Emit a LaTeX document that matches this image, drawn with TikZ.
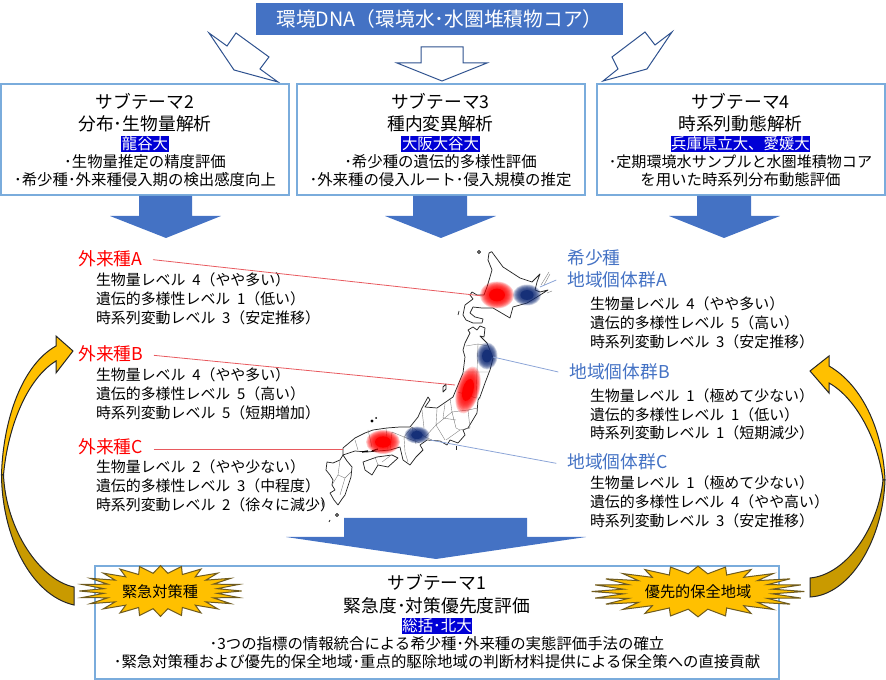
\documentclass[tikz,border=0pt]{standalone}
\usepackage{fontspec}
\setmainfont{Noto Sans CJK JP}
\usetikzlibrary{shapes.geometric}

\definecolor{barblue}{RGB}{68,114,196}
\definecolor{edgeblue}{RGB}{47,82,143}
\definecolor{boxblue}{RGB}{122,172,220}
\definecolor{uniblue}{RGB}{0,0,214}
\definecolor{gold}{RGB}{255,192,0}
\definecolor{darkgold}{RGB}{201,154,0}
\definecolor{burstedge}{RGB}{110,90,30}
\definecolor{navyspot}{RGB}{22,48,120}
\definecolor{redleader}{RGB}{232,90,95}
\definecolor{blueleader}{RGB}{140,165,215}

%soft spot: colour, centre x, centre y, x radius, y radius, angle
\newcommand{\softspot}[6]{
  \foreach \s in {1.00,0.95,0.90,0.85,0.80,0.75,0.70,0.65,0.60,0.55,0.50}
    \fill [#1,fill opacity=0.18,rotate around={#6:(#2,#3)}] (#2,#3) ellipse [x radius=#4*\s,y radius=#5*\s];
  \fill [#1,rotate around={#6:(#2,#3)}] (#2,#3) ellipse [x radius=#4*0.47,y radius=#5*0.47];
}

\tikzset{every picture/.style={line width=0.75pt},
  themebox/.style={draw=boxblue,line width=1.5pt,fill=white,inner sep=0pt,minimum width=216pt,minimum height=83pt},
  themehead/.style={font=\fontsize{13.3}{15}\selectfont,inner sep=0pt},
  themeline/.style={font=\fontsize{11.55}{14}\selectfont,inner sep=0pt},
  uniname/.style={font=\fontsize{11.55}{14}\selectfont,fill=uniblue,text=white,inner sep=0.4pt},
  bodyline/.style={font=\fontsize{11.2}{13}\selectfont,anchor=west,inner sep=0pt},
  alienlabel/.style={font=\fontsize{13.3}{15}\selectfont,text=red,anchor=west,inner sep=0pt},
  rarelabel/.style={font=\fontsize{13.3}{15}\selectfont,text=barblue,anchor=west,inner sep=0pt},
  hollowarrow/.style={draw=edgeblue,fill=white,line join=miter},
  blockarrow/.style={fill=barblue},
  goldarrow/.style={draw=black!85,fill=gold,line join=miter},
  darkarrow/.style={draw=black!85,fill=darkgold,line join=miter},
  burst/.style={star,star points=24,star point ratio=1.42,minimum size=38pt,inner sep=0pt,draw=burstedge,fill=gold},
  bursttext/.style={font=\fontsize{11.4}{13}\selectfont,inner sep=0pt},
  coast/.style={draw=black!85,line width=0.55pt,line join=round},
  border/.style={draw=black!50,line width=0.3pt,line join=round},
  redline/.style={draw=redleader,line width=0.6pt},
  blueline/.style={draw=blueleader,line width=0.6pt}}

\begin{document}
\begin{tikzpicture}[x=0.75pt,y=0.75pt,yscale=-1,xscale=1]
\useasboundingbox (0,0) rectangle (886,680);

%Top bar
\node (dna) [fill=barblue,text=white,minimum width=275pt,minimum height=24pt,inner sep=0pt,font=\fontsize{14.8}{16}\selectfont] at (439.5,19) {環境DNA（環境水･水圏堆積物コア）};

%Hollow arrows
\draw [hollowarrow] (278,82) -- (234,70) -- (209,33) -- (227,46) -- (236,33) -- (269,57) -- (260,69) -- cycle;
\draw [hollowarrow] (421,47) -- (463,47) -- (463,63) -- (487,63) -- (442,81) -- (397,63) -- (421,63) -- cycle;
\draw [hollowarrow] (603,81) -- (647,69) -- (672,32) -- (655,45) -- (645,32) -- (612,57) -- (618,69) -- cycle;

%Theme boxes
\node (box2) [themebox] at (145,139.5) {};
\node (box3) [themebox] at (440.5,139.5) {};
\node (box4) [themebox] at (740.5,139.5) {};

% Text Node
\node (head2) [themehead] at (145,101) {サブテーマ2};
\node (name2) [themehead] at (145,124) {分布･生物量解析};
\node (uni2) [uniname] at (145,144) {龍谷大};
\node (item2a) [themeline] at (145,162) {･生物量推定の精度評価};
\node (item2b) [themeline] at (145,180) {･希少種･外来種侵入期の検出感度向上};
% Text Node
\node (head3) [themehead] at (440.5,101) {サブテーマ3};
\node (name3) [themehead] at (440.5,124) {種内変異解析};
\node (uni3) [uniname] at (440.5,144) {大阪大谷大};
\node (item3a) [themeline] at (440.5,162) {･希少種の遺伝的多様性評価};
\node (item3b) [themeline] at (440.5,180) {･外来種の侵入ルート･侵入規模の推定};
% Text Node
\node (head4) [themehead] at (740.5,101) {サブテーマ4};
\node (name4) [themehead] at (740.5,124) {時系列動態解析};
\node (uni4) [uniname] at (740.5,144) {兵庫県立大、愛媛大};
\node (item4a) [themeline,font=\fontsize{11.3}{14}\selectfont] at (740.5,162) {･定期環境水サンプルと水圏堆積物コア};
\node (item4b) [themeline] at (740.5,180) {を用いた時系列分布動態評価};

%Block arrows
\fill [blockarrow] (139,196) -- (192,196) -- (192,216) -- (221,216) -- (166,238) -- (110,216) -- (139,216) -- cycle;
\fill [blockarrow] (413,196) -- (467,196) -- (467,216) -- (496,216) -- (441,238) -- (385,216) -- (413,216) -- cycle;
\fill [blockarrow] (697,196) -- (751,196) -- (751,216) -- (780,216) -- (724,238) -- (669,216) -- (697,216) -- cycle;

%Hokkaido
\draw [coast] (491.7,251.7) -- (489,253) -- (488,260) -- (492,270) -- (490,277) -- (487,287) -- (484,295) -- (477,295) -- (472,292) -- (470,295) -- (473,299) -- (465,305) -- (463,315) -- (466,320) -- (473,323) -- (482,323) -- (483,319) -- (475,317) -- (470,313) -- (473,307) -- (482,308) -- (493,308) -- (510,318) -- (513,307) -- (527,303) -- (537,297) -- (548,290) -- (540,292) -- (535,290) -- (537,282) -- (540,274) -- (532,282) -- (520,278) -- (503,267) -- cycle;
%Honshu
\draw [coast] (470,333) -- (468,330) -- (473,327) -- (477,330) -- (480,326) -- (485,328) -- (484,337) -- (480,336) -- (487,343) -- (493,358) -- (490,370) -- (485,383) -- (480,397) -- (478,400) -- (477,413) -- (468,428) -- (463,430) -- (465,435) -- (458,443) -- (450,440) -- (447,445) -- (440,441) -- (427,440) -- (420,445) -- (423,450) -- (416,457) -- (410,465) -- (403,460) -- (400,447) -- (390,450) -- (378,451) -- (367,452) -- (355,451) -- (343,455) -- (343,448) -- (355,438) -- (365,433) -- (373,430) -- (387,428) -- (400,427) -- (410,427) -- (418,417) -- (422,408) -- (428,397) -- (430,400) -- (425,407) -- (437,408) -- (453,397) -- (458,385) -- (463,373) -- (465,357) -- (463,350) -- (465,343) -- cycle;
%Shikoku and Kyushu
\draw [coast] (363,462) -- (377,457) -- (392,455) -- (398,458) -- (388,467) -- (378,465) -- (372,475) -- (365,470) -- cycle;
\draw [coast] (343,455) -- (347,461) -- (352,467) -- (351,477) -- (345,495) -- (342,499) -- (338,505) -- (334,500) -- (330,493) -- (335,490) -- (332,485) -- (333,480) -- (330,475) -- (326,470) -- (327,462) -- (333,463) -- (340,460) -- cycle;
%Islands
\draw [coast] (443,387) -- (446,384) -- (446,389) -- (443,392) -- cycle;
\draw [coast] (479,252) circle (1.5);
\draw [coast] (458,315) -- (459,311);
\fill [black] (372,421) circle (1.6) (376,418) circle (1);
\draw [coast] (456,446) -- (456,450);
\draw [coast] (322,500) -- (323,507);
\draw [coast] (337,515) circle (1.5);
\draw [coast] (330,520) -- (329,522);
\draw [black,line width=1pt] (362,452) -- (368,451) (372,451) -- (378,449);
\draw [border] (541,285) -- (549,272) (544,285) -- (550,274) (547,293) -- (552,291);
%Prefecture borders
\draw [border] (466,346) -- (478,344) -- (488,346) (478,344) -- (477,372) -- (489,372) (464,372) -- (477,372) -- (476,398) -- (481,398) (458,392) -- (476,398);
\draw [border] (437,409) -- (436,425) -- (425,437) -- (412,427) (436,425) -- (445,440) (450,398) -- (452,412) -- (436,425) (452,412) -- (468,410) -- (478,408) (468,410) -- (470,428) -- (460,430) -- (446,440) (452,412) -- (456,428) -- (460,430) (425,437) -- (432,440) (422,410) -- (424,428) (445,404) -- (443,418) -- (456,420);
\draw [border] (412,427) -- (404,437) -- (405,452) -- (408,462) (404,437) -- (392,432) -- (390,450) (404,437) -- (420,443) (368,430) -- (372,447) (386,428) -- (388,450) (355,440) -- (358,450) (412,427) -- (416,444);
\draw [border] (375,457) -- (378,465) (390,456) -- (382,462) (340,460) -- (338,475) -- (345,478) (338,475) -- (332,485) (345,478) -- (340,495) (345,478) -- (351,472);

%Spots
\softspot{red}{497}{295}{17}{13.5}{0}
\softspot{navyspot}{527}{295}{14}{10.5}{0}
\softspot{navyspot}{487}{356}{10.5}{13.5}{0}
\softspot{red}{468}{390}{11.5}{24}{15}
\softspot{red}{383}{442}{17}{12}{0}
\softspot{navyspot}{417}{435}{12.5}{8.5}{0}
\coordinate (spotA) at (483,296);
\coordinate (spotB) at (455,385);
\coordinate (spotC) at (343,449);
\coordinate (spotD) at (540,287);
\coordinate (spotE) at (493,357);
\coordinate (spotF) at (430,440);

% Text Node
\node (alienA) [alienlabel] at (78,259) {外来種A};
\node (alienA1) [bodyline] at (95.5,280) {生物量レベル~~4（やや多い）};
\node (alienA2) [bodyline] at (95.5,299) {遺伝的多様性レベル~~1（低い）};
\node (alienA3) [bodyline] at (95.5,318) {時系列変動レベル~~3（安定推移）};
\node (alienB) [alienlabel] at (78,354) {外来種B};
\node (alienB1) [bodyline] at (95.5,375) {生物量レベル~~4（やや多い）};
\node (alienB2) [bodyline] at (95.5,394) {遺伝的多様性レベル~~5（高い）};
\node (alienB3) [bodyline] at (95.5,413) {時系列変動レベル~~5（短期増加）};
\node (alienC) [alienlabel] at (78,447) {外来種C};
\node (alienC1) [bodyline] at (95.5,467) {生物量レベル~~2（やや少ない）};
\node (alienC2) [bodyline] at (95.5,486) {遺伝的多様性レベル~~3（中程度）};
\node (alienC3) [bodyline] at (95.5,505) {時系列変動レベル~~2（徐々に減少）};
% Text Node
\node (rare) [rarelabel] at (567,258) {希少種};
\node (localA) [rarelabel] at (567,280) {地域個体群A};
\node (localA1) [bodyline] at (589.5,304) {生物量レベル~~4（やや多い）};
\node (localA2) [bodyline] at (589.5,323) {遺伝的多様性レベル~~5（高い）};
\node (localA3) [bodyline] at (589.5,342) {時系列変動レベル~~3（安定推移）};
\node (localB) [rarelabel] at (569,372) {地域個体群B};
\node (localB1) [bodyline] at (589.5,396) {生物量レベル~~1（極めて少ない）};
\node (localB2) [bodyline] at (589.5,415) {遺伝的多様性レベル~~1（低い）};
\node (localB3) [bodyline] at (589.5,433) {時系列変動レベル~~1（短期減少）};
\node (localC) [rarelabel] at (567,462) {地域個体群C};
\node (localC1) [bodyline] at (589.5,483) {生物量レベル~~1（極めて少ない）};
\node (localC2) [bodyline] at (589.5,502) {遺伝的多様性レベル~~4（やや高い）};
\node (localC3) [bodyline] at (589.5,521) {時系列変動レベル~~3（安定推移）};

%Straight Lines
\draw [redline] ([xshift=7.5pt,yshift=0.5pt]alienA.east) -- (spotA);
\draw [redline] ([xshift=7.5pt,yshift=1pt]alienB.east) -- (spotB);
\draw [redline] ([xshift=7.5pt,yshift=1.5pt]alienC.east) -- (spotC);
\draw [blueline] ([xshift=-8pt]localA.west) -- (spotD);
\draw [blueline] ([xshift=-8pt]localB.west) -- (spotE);
\draw [blueline] ([xshift=-8pt,yshift=1pt]localC.west) -- (spotF);

%Bottom arrow and box
\fill [blockarrow] (344,518) -- (527,518) -- (527,537) -- (586,537) -- (436,559) -- (286,537) -- (344,537) -- cycle;
\node (box1) [themebox,minimum width=513pt,minimum height=84.5pt] at (437,622.5) {};
\node (head1) [themehead] at (437,582) {サブテーマ1};
\node (name1) [themehead] at (437,606) {緊急度･対策優先度評価};
\node (uni1) [uniname] at (437,626) {総括･北大};
\node (item1a) [themeline] at (437,644) {･3つの指標の情報統合による希少種･外来種の実態評価手法の確立};
\node (item1b) [themeline] at (437,662) {･緊急対策種および優先的保全地域･重点的駆除地域の判断材料提供による保全策への直接貢献};

%Bursts
\node (burstL) [burst,xscale=3.2] at (160.5,591) {};
\node (burstR) [burst,xscale=4.2] at (698,591.5) {};
\node (burstLtext) [bursttext] at (160,592) {緊急対策種};
\node (burstRtext) [bursttext] at (698,592) {優先的保全地域};

%Curved arrows
\draw [goldarrow] (1.5,475) .. controls (3,420) and (22,365) .. (56,346) -- (56,336) -- (73,351) -- (56,373) -- (56,361) .. controls (28,378) and (8,425) .. (3.5,475) -- cycle;
\draw [darkarrow] (1.5,475) .. controls (2,535) and (30,595) .. (74,605) -- (74,587) .. controls (40,580) and (6,530) .. (3.5,475) -- cycle;
\draw [goldarrow] (885,480) .. controls (883,430) and (862,385) .. (829,366) -- (829,356) -- (810,371) -- (829,393) -- (829,383) .. controls (856,398) and (878,440) .. (883,480) -- cycle;
\draw [darkarrow] (885,480) .. controls (883,540) and (850,595) .. (810,597) -- (810,578) .. controls (845,575) and (878,530) .. (883,480) -- cycle;

\end{tikzpicture}
\end{document}
